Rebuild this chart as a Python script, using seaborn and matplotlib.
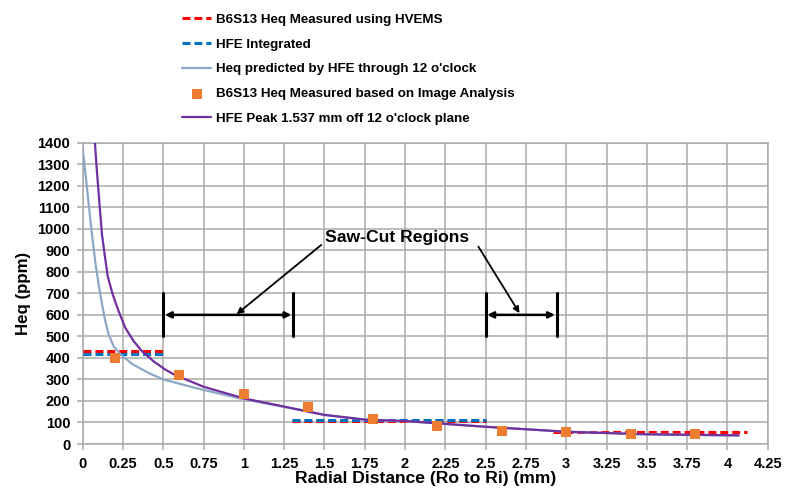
import numpy as np
import pandas as pd
import matplotlib
matplotlib.use("Agg")
import matplotlib.pyplot as plt
import seaborn as sns

# ---------------- data ----------------
# HVEMS measured Heq (red dashed segments)
hvems_x1 = [0.0, 0.5]
hvems_y1 = [430, 430]
hvems_x2 = [1.3, 2.5]
hvems_y2 = [105, 105]
hvems_x3 = [2.92, 4.12]
hvems_y3 = [57, 57]

# HFE integrated (blue dashed segments)
hfe_int_x1 = [0.0, 0.5]
hfe_int_y1 = [419, 419]
hfe_int_x2 = [1.3, 2.5]
hfe_int_y2 = [111, 111]

# Heq predicted by HFE through 12 o'clock (grey-blue curve)
pred_x = [0.0, 0.018, 0.035, 0.058, 0.079, 0.099, 0.12, 0.14, 0.161, 0.192,
          0.233, 0.306, 0.409, 0.5, 0.6, 0.75, 1.0, 1.25, 1.5, 1.75, 2.0,
          2.5, 3.0, 3.5, 4.07]
pred_y = [1376, 1250, 1130, 971, 840, 740, 650, 571, 509, 454,
          418, 372, 330, 300, 280, 251, 208, 172, 136, 114, 106,
          80, 57, 45, 40]

# Image-analysis measured Heq (orange squares)
img_x = [0.2, 0.6, 1.0, 1.4, 1.8, 2.2, 2.6, 3.0, 3.4, 3.8]
img_y = [400, 322, 232, 173, 114, 84, 62, 58, 45, 45]

# HFE peak 1.537 mm off 12 o'clock plane (purple curve)
peak_x = [0.076, 0.085, 0.095, 0.108, 0.12, 0.14, 0.155, 0.186, 0.223, 0.264,
          0.316, 0.368, 0.44, 0.512, 0.574, 0.75, 1.0, 1.25, 1.5, 1.75, 2.0,
          2.5, 3.0, 3.5, 4.07]
peak_y = [1400, 1300, 1203, 1080, 971, 860, 780, 695, 617, 540,
          478, 431, 384, 346, 320, 266, 212, 174, 135, 113, 107,
          80, 57, 45, 40]

x_ticks = [0, 0.25, 0.5, 0.75, 1, 1.25, 1.5, 1.75, 2, 2.25, 2.5, 2.75,
           3, 3.25, 3.5, 3.75, 4, 4.25]
y_ticks = [0, 100, 200, 300, 400, 500, 600, 700, 800, 900, 1000, 1100,
           1200, 1300, 1400]

labels = ["B6S13 Heq Measured using HVEMS",
          "HFE Integrated",
          "Heq predicted by HFE through 12 o'clock",
          "B6S13 Heq Measured based on Image Analysis",
          "HFE Peak 1.537 mm off 12 o'clock plane"]

# ---------------- style ----------------
sns.set_theme(style="white")
plt.rcParams["font.family"] = ["Liberation Sans", "DejaVu Sans"]
plt.rcParams["font.weight"] = "bold"
plt.rcParams["text.color"] = "black"
plt.rcParams["axes.labelcolor"] = "black"
plt.rcParams["xtick.color"] = "black"
plt.rcParams["ytick.color"] = "black"

RED = "#FF0000"
BLUE = "#0070C0"
GREY = "#8FA7C6"
ORANGE = "#ED7D31"
PURPLE = "#7030A0"
GRID = "#ABABAB"

fig = plt.figure(figsize=(7.85, 4.95), dpi=100)
ax = fig.add_axes([82.7 / 785, 51 / 495, 685 / 785, 301.3 / 495])

dash = (0, (2.6, 1.3))

sns.lineplot(x=hvems_x1, y=hvems_y1, ax=ax, color=RED, lw=2.2, linestyle=dash,
             label=labels[0], zorder=3)
sns.lineplot(x=hvems_x2, y=hvems_y2, ax=ax, color=RED, lw=2.2, linestyle=dash, zorder=3)
sns.lineplot(x=hvems_x3, y=hvems_y3, ax=ax, color=RED, lw=2.2, linestyle=dash, zorder=3)

sns.lineplot(x=hfe_int_x1, y=hfe_int_y1, ax=ax, color=BLUE, lw=2.2, linestyle=dash,
             label=labels[1], zorder=3.1)
sns.lineplot(x=hfe_int_x2, y=hfe_int_y2, ax=ax, color=BLUE, lw=2.2, linestyle=dash, zorder=3.1)

sns.lineplot(x=pred_x, y=pred_y, ax=ax, color=GREY, lw=1.6, sort=False,
             label=labels[2], zorder=4)
sns.scatterplot(x=img_x, y=img_y, ax=ax, color=ORANGE, marker="s", s=48,
                linewidth=0, label=labels[3], zorder=6)
sns.lineplot(x=peak_x, y=peak_y, ax=ax, color=PURPLE, lw=1.6, sort=False,
             label=labels[4], zorder=5)

ax.set_xlim(0, 4.25)
ax.set_ylim(0, 1400)
ax.set_xticks(x_ticks)
ax.set_xticklabels(["{:g}".format(t) for t in x_ticks])
ax.set_yticks(y_ticks)
ax.set_yticklabels([str(t) for t in y_ticks])
ax.grid(True, color=GRID, lw=1.1)
ax.set_axisbelow(True)
for sp in ax.spines.values():
    sp.set_color(GRID)
    sp.set_linewidth(1.1)
ax.tick_params(axis="both", which="major", length=4, width=1.1, color=GRID,
               labelcolor="black", labelsize=10.5, direction="out",
               bottom=True, left=True)
ax.tick_params(axis="x", pad=5)
ax.tick_params(axis="y", pad=5)
for lab in ax.get_xticklabels() + ax.get_yticklabels():
    lab.set_fontweight("bold")

ax.set_xlabel("Radial Distance (Ro to Ri) (mm)", fontsize=12.6, fontweight="bold",
              labelpad=0.5, color="black")
ax.set_ylabel("Heq (ppm)", fontsize=12.2, fontweight="bold", labelpad=5,
              color="black")

# ---------------- saw-cut annotations ----------------
for (xa, xb) in [(0.5, 1.305), (2.5, 2.94)]:
    ax.plot([xa, xa], [500, 700], color="black", lw=2.2, zorder=7)
    ax.plot([xb, xb], [500, 700], color="black", lw=2.2, zorder=7)
    ax.annotate("", xy=(xa + 0.01, 600), xytext=(xb - 0.01, 600),
                arrowprops=dict(arrowstyle="<|-|>", color="black", lw=1.8,
                                mutation_scale=9, shrinkA=0, shrinkB=0), zorder=7)

ax.text(1.95, 958, "Saw-Cut Regions", fontsize=12.6, fontweight="bold",
        ha="center", va="center", color="black", zorder=8)
ax.annotate("", xy=(0.955, 603), xytext=(1.48, 925),
            arrowprops=dict(arrowstyle="-|>", color="black", lw=1.3,
                            mutation_scale=9, shrinkA=0, shrinkB=0), zorder=8)
ax.annotate("", xy=(2.71, 608), xytext=(2.455, 917),
            arrowprops=dict(arrowstyle="-|>", color="black", lw=1.3,
                            mutation_scale=9, shrinkA=0, shrinkB=0), zorder=8)

# ---------------- legend ----------------
handles, labs = ax.get_legend_handles_labels()
order = [labs.index(l) for l in labels]
ax.get_legend().remove()
leg = fig.legend([handles[i] for i in order], [labs[i] for i in order],
                 loc="upper left", bbox_to_anchor=(182 / 785, 1 - 13.5 / 495),
                 frameon=False, handlelength=2.2, handletextpad=0.35,
                 labelspacing=0.93, borderpad=0, borderaxespad=0,
                 prop={"weight": "bold", "size": 9.6})
for t in leg.get_texts():
    t.set_color("black")

fig.savefig("out.png", dpi=100, facecolor="white")
